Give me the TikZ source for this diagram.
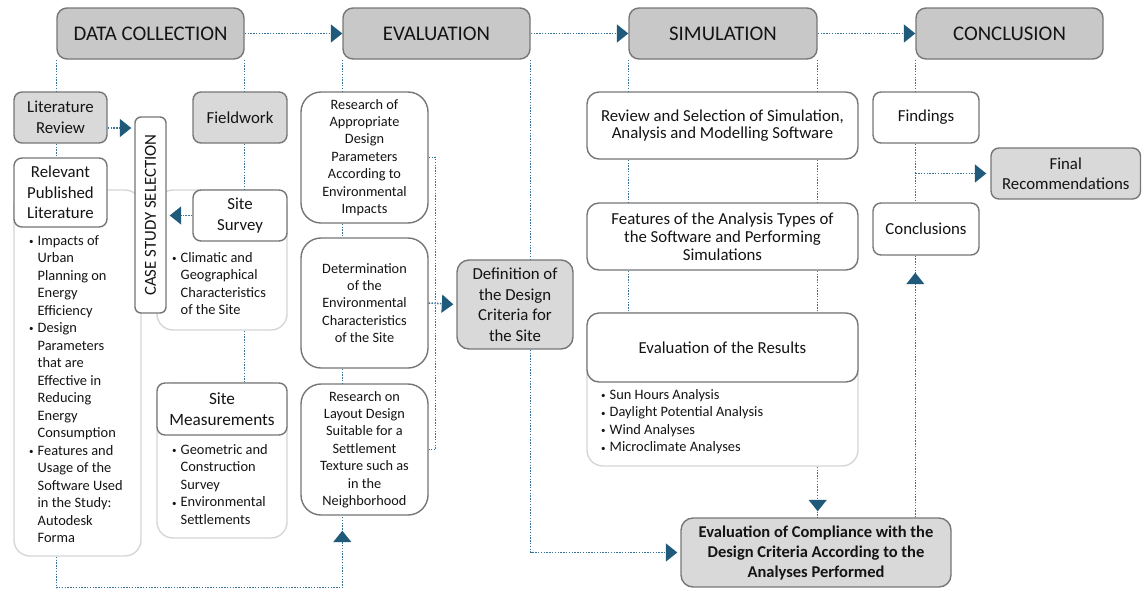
\documentclass[tikz,border=0pt]{standalone}
\usepackage{fontspec}
\setmainfont{Carlito}
\usetikzlibrary{arrows.meta}
\definecolor{hdrfill}{RGB}{200,200,200}
\definecolor{boxfill}{RGB}{217,217,217}
\definecolor{bordercol}{RGB}{118,118,118}
\definecolor{contcol}{RGB}{214,214,214}
\definecolor{dotcol}{RGB}{55,115,150}
\definecolor{arrcol}{RGB}{31,90,122}
\definecolor{txtcol}{RGB}{20,20,20}
\newcommand\fM{\fontsize{16.8}{20.5}\selectfont}
\newcommand\fS{\fontsize{14.3}{17.4}\selectfont}
\newcommand\bul{\makebox[8.5pt][l]{\raisebox{0.6pt}{\fontsize{9}{9}\selectfont\textbullet}}}
\newcommand\ind{\hspace*{8.5pt}}
\newcommand\mkbox[7]{%
  \pgfmathsetmacro\mybw{#4-#2}%
  \pgfmathsetmacro\mybh{#5-#3}%
  \node[#6, minimum width=\mybw pt, minimum height=\mybh pt] (#1) at ({(#2+#4)/2},{(#3+#5)/2}) {#7};}
\tikzset{
  basebox/.style={draw=bordercol, line width=1.4pt, text=txtcol, inner sep=0pt, align=center},
  hdr/.style={basebox, fill=hdrfill, rounded corners=10pt, font=\fontsize{20.8}{25}\selectfont},
  gbox/.style={basebox, fill=boxfill, rounded corners=8pt, font=\fM},
  wbox/.style={basebox, fill=white, rounded corners=8pt, font=\fM},
  ebox/.style={basebox, fill=white, rounded corners=20pt, font=\fS},
  sbox/.style={basebox, fill=white, rounded corners=12pt, font=\fM},
  cont/.style={draw=contcol, line width=1.4pt, fill=white, rounded corners=16pt, inner sep=0pt},
  lst/.style={inner sep=0pt, anchor=north west, align=left, text=txtcol, font=\fontsize{14.4}{17.5}\selectfont},
  dotline/.style={draw=dotcol, line width=1.5pt, dash pattern=on 1.4pt off 1.4pt},
  arr/.style={-{Triangle[length=11.5pt,width=18pt,color=arrcol,fill=arrcol]}}
}
\begin{document}
\begin{tikzpicture}[x=1pt,y=-1pt]
\useasboundingbox (0,0) rectangle (1142,590);
% headers
\mkbox{dc}{57}{8}{244}{59}{hdr}{DATA COLLECTION}
\mkbox{ev}{343}{8}{530}{59}{hdr}{EVALUATION}
\mkbox{sim}{629}{8}{817}{59}{hdr}{SIMULATION}
\mkbox{con}{916}{8}{1103}{59}{hdr}{CONCLUSION}
% data collection column
\mkbox{lcont}{14}{190}{141}{556}{cont}{}
\mkbox{scont}{157}{190}{287}{330}{cont}{}
\mkbox{mcont}{157}{383}{287}{538}{cont}{}
\mkbox{litrev}{14}{92}{107}{143}{gbox}{Literature\\Review}
\mkbox{field}{193}{92}{287}{143}{gbox}{Fieldwork}
\mkbox{relev}{14}{158}{107}{227}{wbox}{Relevant\\Published\\Literature}
\mkbox{survey}{193}{190}{287}{241}{wbox, font=\fontsize{16.8}{21}\selectfont}{Site\\Survey}
\mkbox{meas}{157}{383}{287}{435}{wbox, font=\fontsize{17.2}{21}\selectfont}{Site\\Measurements}
\node[wbox, rounded corners=6pt, rotate=90, minimum width=196pt, minimum height=31pt] (case) at (150.5,215) {CASE STUDY SELECTION};
\node[lst] (llist) at (29,235) {\bul Impacts of\\\ind Urban\\\ind Planning on\\\ind Energy\\\ind Efficiency\\\bul Design\\\ind Parameters\\\ind that are\\\ind Effective in\\\ind Reducing\\\ind Energy\\\ind Consumption\\\bul Features and\\\ind Usage of the\\\ind Software Used\\\ind in the Study:\\\ind Autodesk\\\ind Forma};
\node[lst] (slist) at (172,252) {\bul Climatic and\\\ind Geographical\\\ind Characteristics\\\ind of the Site};
\node[lst] (mlist) at (172,444) {\bul Geometric and\\\ind Construction\\\ind Survey\\\bul Environmental\\\ind Settlements};
% evaluation column
\mkbox{r1}{301}{92}{428}{223}{ebox}{Research of\\Appropriate\\Design\\Parameters\\According to\\Environmental\\Impacts}
\mkbox{det}{301}{238}{428}{368}{ebox}{Determination\\of the\\Environmental\\Characteristics\\of the Site}
\mkbox{r3}{301}{384}{428}{515}{ebox}{Research on\\Layout Design\\Suitable for a\\Settlement\\Texture such as\\in the\\Neighborhood}
\mkbox{def}{457}{260}{573}{349}{gbox, rounded corners=12pt}{Definition of\\the Design\\Criteria for\\the Site}
% simulation column
\mkbox{rev}{587}{92}{858}{159}{sbox, font=\fontsize{16.8}{16.8}\selectfont}{Review and Selection of Simulation,\\Analysis and Modelling Software}
\mkbox{feat}{587}{203}{858}{270}{sbox, font=\fontsize{16.8}{17.8}\selectfont}{Features of the Analysis Types of\\the Software and Performing\\Simulations}
\mkbox{simcont}{587}{313}{858}{466}{cont}{}
\mkbox{res}{587}{313}{858}{382}{sbox}{Evaluation of the Results}
\node[lst] (rlist) at (601,389) {\bul Sun Hours Analysis\\\bul Daylight Potential Analysis\\\bul Wind Analyses\\\bul Microclimate Analyses};
\mkbox{comp}{681}{518}{951}{587}{gbox, rounded corners=12pt, font=\fontsize{16.5}{20}\selectfont\bfseries}{Evaluation of Compliance with the\\Design Criteria According to the\\Analyses Performed}
% conclusion column
\mkbox{find}{873}{92}{979}{143}{wbox}{Findings}
\mkbox{concl}{873}{203}{979}{255}{wbox}{Conclusions}
\mkbox{final}{991}{148}{1140.5}{199}{gbox}{Final\\Recommendations}
% header arrows
\draw[dotline, arr] (dc.east) -- (ev.west);
\draw[dotline, arr] (ev.east) -- (sim.west);
\draw[dotline, arr] (sim.east) -- (con.west);
% data collection connectors
\draw[dotline] (dc.south west) -- (dc.south west |- litrev.north);
\draw[dotline] (dc.south west |- litrev.south) -- (dc.south west |- relev.north);
\draw[dotline] (dc.south east) -- (dc.south east |- field.north);
\draw[dotline] (dc.south east |- field.south) -- (dc.south east |- survey.north);
\draw[dotline] (dc.south east |- scont.south) -- (dc.south east |- meas.north);
\draw[dotline, arr, shorten >=3pt] ([yshift=-10.5pt]litrev.east) -- ([yshift=-10.5pt]litrev.east -| case.north);
\draw[dotline, arr, shorten >=3pt] (survey.west) -- (survey.west -| case.south);
\draw[dotline] (dc.south west |- lcont.south) -- ++(0,31) -| (ev.south west |- r3.south);
\draw[dotline, arr, shorten >=15pt] (dc.south west |- lcont.south) -- ++(0,31) -| (ev.south west |- r3.south);
% evaluation connectors
\draw[dotline] (ev.south west) -- (ev.south west |- r1.north);
\draw[dotline] (ev.south west |- r1.south) -- (ev.south west |- det.north);
\draw[dotline] (ev.south west |- det.south) -- (ev.south west |- r3.north);
\draw[dotline] (r1.east) -- ++(7,0) |- (r3.east);
\draw[dotline, arr, shorten >=3pt] (det.east) -- (def.west);
\draw[dotline] (ev.south east) -- (ev.south east |- def.north);
\draw[dotline, arr, shorten >=3pt] (ev.south east |- def.south) |- (comp.west);
% simulation connectors
\draw[dotline] (sim.south west) -- (sim.south west |- rev.north);
\draw[dotline] (sim.south east) -- (sim.south east |- rev.north);
\draw[dotline] (sim.south west |- rev.south) -- (sim.south west |- feat.north);
\draw[dotline] (sim.south east |- rev.south) -- (sim.south east |- feat.north);
\draw[dotline] (sim.south west |- feat.south) -- (sim.south west |- res.north);
\draw[dotline] (sim.south east |- feat.south) -- (sim.south east |- res.north);
\draw[dotline] (sim.south east |- simcont.south) -- (sim.south east |- comp.north);
\draw[dotline, arr, shorten >=6pt] (sim.south east |- simcont.south) -- (sim.south east |- comp.north);
% conclusion connectors
\draw[dotline] (con.south west) -- (con.south west |- find.north);
\draw[dotline] (con.south west |- find.south) -- (con.south west |- concl.north);
\draw[dotline, arr, shorten >=4pt] (con.south west |- final.west) -- (final.west);
\draw[dotline] (con.south west |- comp.north) -- (con.south west |- concl.south);
\draw[dotline, arr, shorten >=17pt] (con.south west |- comp.north) -- (con.south west |- concl.south);
\end{tikzpicture}
\end{document}
